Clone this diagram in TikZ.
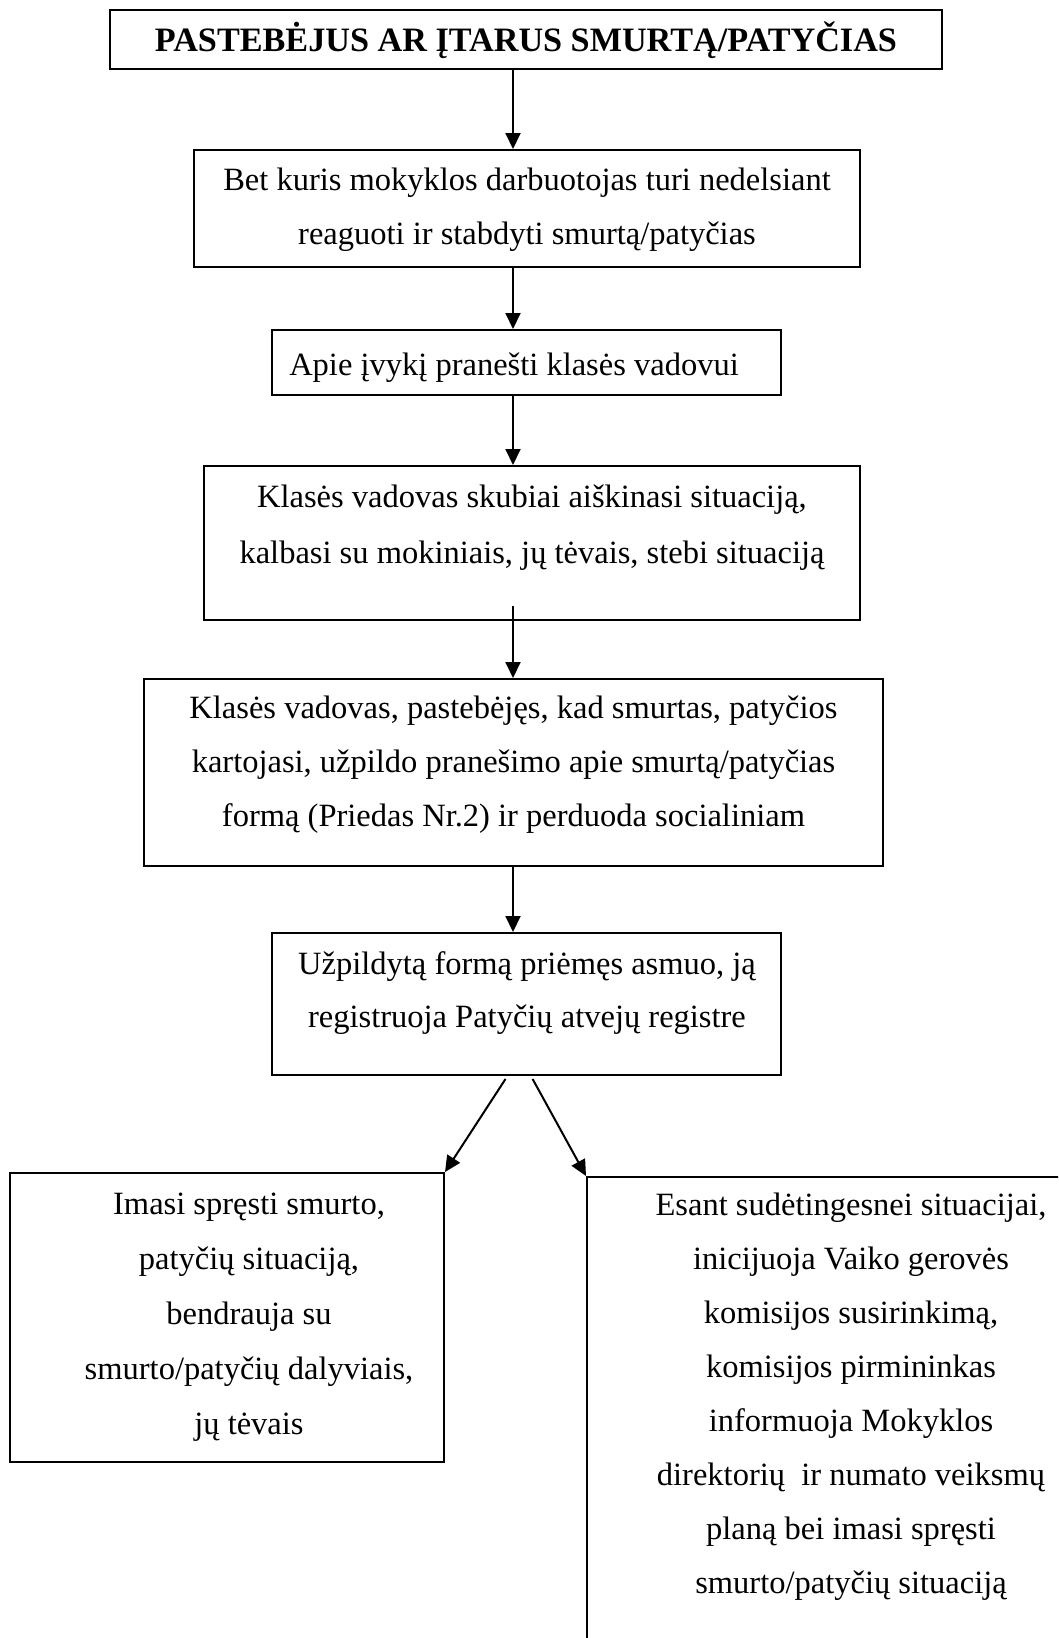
\documentclass[tikz,border=0pt]{standalone}
\usepackage{fontspec}
\setmainfont{Liberation Serif}
\usetikzlibrary{arrows.meta}
\begin{document}
\begin{tikzpicture}[x=1pt,y=-1pt,
  box/.style={draw, line width=2pt, inner sep=0pt},
  txt/.style={align=center, inner sep=0pt, font=\fontsize{32.5}{53.8}\selectfont},
  arr/.style={line width=2pt, -{Triangle[length=16pt,width=15pt]}}]
\useasboundingbox (0,0) rectangle (1058,1638);
\fill[white] (0,0) rectangle (1058,1638);
\clip (0,0) rectangle (1058,1638);
% boxes
\node[box, minimum width=832pt, minimum height=59pt] (t) at (526,39.5) {};
\node[box, minimum width=666pt, minimum height=117pt] (b2) at (527,208.5) {};
\node[box, minimum width=509pt, minimum height=65pt] (b3) at (526.5,362.5) {};
\node[box, minimum width=656pt, minimum height=154pt] (b4) at (532,543) {};
\node[box, minimum width=739pt, minimum height=187pt] (b5) at (513.5,772.5) {};
\node[box, minimum width=509pt, minimum height=142pt] (b6) at (526.5,1004) {};
\node[box, minimum width=434pt, minimum height=289pt] (lb) at (227,1317.5) {};
\node[box, minimum width=700pt, minimum height=600pt] (rb) at (937,1477) {};
% texts
\node[txt, font=\bfseries\fontsize{34.2}{40}\selectfont] (tt) at (526,40.5) {PASTEBĖJUS AR ĮTARUS SMURTĄ/PATYČIAS};
\node[txt] (t2) at (527,209.5) {Bet kuris mokyklos darbuotojas turi nedelsiant\\reaguoti ir stabdyti smurtą/patyčias};
\node[txt] (t3) at (514,368) {Apie įvykį pranešti klasės vadovui};
\node[txt, font=\fontsize{32.5}{55.5}\selectfont] (t4) at (532,527.5) {Klasės vadovas skubiai aiškinasi situaciją,\\kalbasi su mokiniais, jų tėvais, stebi situaciją};
\node[txt] (t5) at (513.5,764.5) {Klasės vadovas, pastebėjęs, kad smurtas, patyčios\\kartojasi, užpildo pranešimo apie smurtą/patyčias\\formą (Priedas Nr.2) ir perduoda socialiniam};
\node[txt] (t6) at (527,993) {Užpildytą formą priėmęs asmuo, ją\\registruoja Patyčių atvejų registre};
\node[txt, font=\fontsize{32.5}{55}\selectfont] (tl) at (249,1317) {Imasi spręsti smurto,\\patyčių situaciją,\\bendrauja su\\smurto/patyčių dalyviais,\\jų tėvais};
\node[txt, font=\fontsize{32.5}{54}\selectfont] (tr) at (851,1396.5) {Esant sudėtingesnei situacijai,\\inicijuoja Vaiko gerovės\\komisijos susirinkimą,\\komisijos pirmininkas\\informuoja Mokyklos\\direktorių\ \ ir numato veiksmų\\planą bei imasi spręsti\\smurto/patyčių situaciją};
% connectors
\coordinate (ax) at (513,0);
\coordinate (b4s) at ([yshift=15pt]b4.south);
\coordinate (dl) at (505.5,1079);
\coordinate (dr) at (532.6,1079);
\draw[arr] (t.south -| ax) -- (b2.north -| ax);
\draw[arr] (b2.south -| ax) -- (b3.north -| ax);
\draw[arr] (b3.south -| ax) -- (b4.north -| ax);
\draw[arr] (b4s -| ax) -- (b5.north -| ax);
\draw[arr] (b5.south -| ax) -- (b6.north -| ax);
\draw[arr] (dl) -- (lb.north east);
\draw[arr] (dr) -- (rb.north west);
\end{tikzpicture}
\end{document}
